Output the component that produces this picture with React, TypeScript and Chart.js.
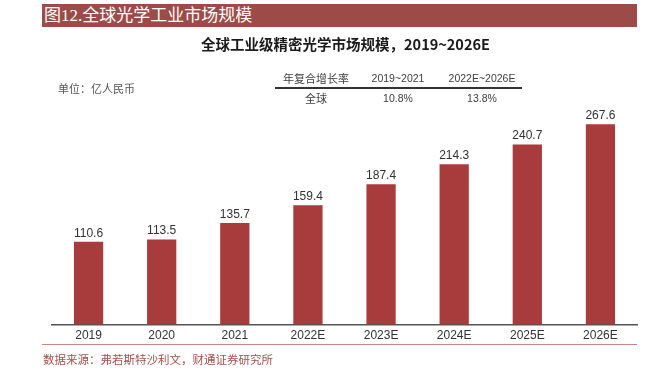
import React, { useEffect, useRef } from "react";
import { Chart, registerables } from "chart.js";

Chart.register(...registerables);

const categories = ["2019", "2020", "2021", "2022E", "2023E", "2024E", "2025E", "2026E"];
const marketSize = [110.6, 113.5, 135.7, 159.4, 187.4, 214.3, 240.7, 267.6];
const cagrHeader = ["年复合增长率", "2019~2021", "2022E~2026E"];
const cagrRow = ["全球", "10.8%", "13.8%"];

const BAR_COLOR = "#a83b3b";

const valueLabelPlugin = {
  id: "valueLabels",
  afterDatasetsDraw(chart: any) {
    const { ctx } = chart;
    const meta = chart.getDatasetMeta(0);
    ctx.save();
    ctx.font = "12px 'Liberation Sans', Arial, sans-serif";
    ctx.fillStyle = "#333333";
    ctx.textAlign = "center";
    ctx.textBaseline = "middle";
    meta.data.forEach((bar: any, i: number) => {
      const v = chart.data.datasets[0].data[i];
      ctx.fillText(v.toFixed(1), bar.x, bar.y - 8.5);
    });
    ctx.restore();
  },
};

export default function App() {
  const canvasRef = useRef<HTMLCanvasElement | null>(null);

  useEffect(() => {
    if (!canvasRef.current) return;
    const chart = new Chart(canvasRef.current, {
      type: "bar",
      data: {
        labels: categories,
        datasets: [
          {
            data: marketSize,
            backgroundColor: BAR_COLOR,
            borderWidth: 0,
            barPercentage: 0.4,
            categoryPercentage: 1,
          },
        ],
      },
      options: {
        animation: false,
        responsive: false,
        maintainAspectRatio: false,
        layout: { padding: { left: 52, right: 24, top: 100, bottom: 26.5 } },
        plugins: {
          legend: { display: false },
          tooltip: { enabled: false },
          title: { display: false },
        },
        scales: {
          x: {
            grid: { display: false, drawTicks: false },
            border: { display: true, color: "#555555", width: 1.5 },
            ticks: {
              color: "#333333",
              font: { size: 12, family: "'Liberation Sans', Arial, sans-serif" },
              padding: 4,
              maxRotation: 0,
              autoSkip: false,
            },
            afterFit: (scale: any) => {
              scale.height = 20;
            },
          },
          y: {
            display: false,
            min: 0,
            max: 300,
          },
        },
      },
      plugins: [valueLabelPlugin],
    });
    return () => chart.destroy();
  }, []);

  const sans = "'Noto Sans CJK SC', 'Liberation Sans', sans-serif";
  const serif = "'Liberation Serif', 'Noto Sans CJK SC', serif";

  return (
    <div
      style={{
        position: "fixed",
        left: 0,
        top: 0,
        width: 661,
        height: 371,
        background: "#ffffff",
        overflow: "hidden",
      }}
    >
      <div
        style={{
          position: "absolute",
          left: 42,
          top: 4,
          width: 595,
          height: 23,
          background: "#9d4b48",
          color: "#ffffff",
          fontFamily: serif,
          fontSize: 17,
          lineHeight: "23px",
          paddingLeft: 2,
          boxSizing: "border-box",
          whiteSpace: "nowrap",
        }}
      >
        图12.全球光学工业市场规模
      </div>
      <canvas
        ref={canvasRef}
        width={661}
        height={371}
        style={{ position: "absolute", left: 0, top: 0, width: 661, height: 371 }}
      />
      <div
        style={{
          position: "absolute",
          left: 0,
          width: 661,
          top: 34,
          height: 20,
          lineHeight: "20px",
          textAlign: "center",
          paddingLeft: 30,
          boxSizing: "border-box",
          fontFamily: sans,
          fontWeight: 700,
          fontSize: 14.5,
          color: "#1a1a1a",
          whiteSpace: "nowrap",
        }}
      >
        全球工业级精密光学市场规模，2019~2026E
      </div>
      <div
        style={{
          position: "absolute",
          left: 58,
          top: 79,
          height: 18,
          lineHeight: "18px",
          fontFamily: sans,
          fontSize: 11,
          color: "#555555",
          whiteSpace: "nowrap",
        }}
      >
        单位：亿人民币
      </div>
      {/* CAGR table */}
      {[cagrHeader, cagrRow].map((row, r) =>
        row.map((cell, c) => {
          const centers = [316, 398, 482];
          return (
            <div
              key={`${r}-${c}`}
              style={{
                position: "absolute",
                left: centers[c] - 50,
                width: 100,
                top: r === 0 ? 69 : 89,
                height: 18,
                lineHeight: "18px",
                textAlign: "center",
                fontFamily: c === 0 ? sans : "'Liberation Sans', Arial, sans-serif",
                fontSize: c === 0 ? 11 : 10.5,
                color: "#404040",
                whiteSpace: "nowrap",
              }}
            >
              {cell}
            </div>
          );
        })
      )}
      <div
        style={{
          position: "absolute",
          left: 275,
          top: 87,
          width: 247,
          height: 2,
          background: "#333333",
        }}
      />
      <div
        style={{
          position: "absolute",
          left: 42,
          top: 344,
          width: 595,
          height: 1.2,
          background: "#c98683",
        }}
      />
      <div
        style={{
          position: "absolute",
          left: 43,
          top: 352,
          height: 16,
          lineHeight: "16px",
          fontFamily: serif,
          fontSize: 11.5,
          color: "#a3504c",
          whiteSpace: "nowrap",
        }}
      >
        数据来源：弗若斯特沙利文，财通证券研究所
      </div>
    </div>
  );
}
